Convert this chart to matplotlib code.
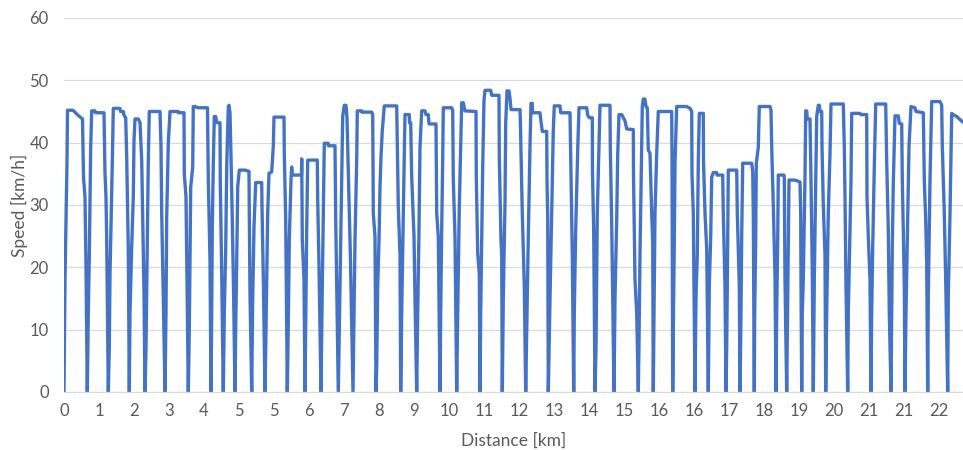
import matplotlib
matplotlib.use("Agg")
import matplotlib.pyplot as plt

plt.rcParams["font.family"] = ["Lato", "DejaVu Sans"]

# speed trace, x = sample index along the route (one line per stop-to-stop trip)
sample_idx = [
    0, 1, 2.5, 3, 3.5, 9, 14, 18.5, 19.5, 21, 22, 23.3,
    24.3, 25.3, 26.7, 27.7, 31, 31.5, 40, 41, 42, 42.7, 44.3,
    45.3, 46, 47.7, 48.3, 49.3, 56, 56.5, 59.3, 60, 61.7, 62.7, 64.3, 65.3,
    66, 67.7, 69.3, 70, 71, 74.3, 76, 77.7, 78.7, 80, 81,
    82, 83.3, 84.3, 85.3, 96, 97, 97.7, 99.3, 101,
    102, 102.7, 104.3, 106, 114.3, 114.5, 120, 120.3, 122, 122.7, 124.3,
    125.3, 126, 126.7, 128.7, 129.3, 131, 134, 143.5, 144.3, 146, 147,
    147.7, 148.3, 149.3, 150.3, 151.7, 152.7, 156, 156.3, 157.7, 159.3,
    160.3, 161.7, 162.7, 164.3, 165, 166, 167, 168.3, 169.7, 171,
    171.7, 172.7, 173.7, 175.3, 181, 185, 185.3, 186, 187.7,
    188.7, 190, 191.7, 197.7, 198, 199.3, 201,
    202, 203.7, 205, 207.7, 209.3, 210, 220, 220.3, 221.7, 223.3,
    224.3, 225.3, 227, 227.7, 228.3, 237.5, 237.7, 238.3, 240, 241,
    242, 242.7, 243.7, 253.3, 253.7, 255, 257,
    258.3, 259.3, 260.3, 264.3, 264.5, 271, 271.7, 272.7, 274.3,
    276, 277.7, 278.7, 280.3, 282, 283, 284.5, 286.5, 289,
    290, 291, 292.7, 293.3, 297.7, 298, 307.7, 308.7, 309.3, 311, 312,
    312.7, 313.7, 315, 316, 317, 318.3, 320.3, 332.7, 333.3, 334.3, 336, 336.7,
    337.7, 339.3, 340.3, 341, 345.3, 345.5, 346.7, 347.7, 350, 351, 352.7,
    353.7, 355, 356, 357.7, 361, 362, 364.3, 365, 372, 372.7, 374.3, 376,
    376.7, 377.7, 378.7, 379.3, 387.7, 388.7, 389.3, 391, 392.7,
    393.7, 395.3, 396.7, 397.7, 399.3, 401, 412, 412.3, 413.7, 415.3, 416,
    416.7, 418.7, 420, 421, 426.7, 427.7, 435, 435.3, 437, 437.7, 438.3,
    439.3, 441, 441.7, 443, 445, 446, 447, 456, 456.3, 457, 458.3, 460.3, 461.7,
    462.7, 464.3, 466, 467, 468.3, 468.5, 476, 477, 478.3, 482.7, 483, 483.7, 484.3,
    486, 487.7, 489.3, 490.3, 496, 496.7, 506, 507, 508.3, 509.7,
    510.3, 511.7, 513.7, 515, 522.7, 523.7, 525.3, 528.3, 528.5, 529.7, 531,
    532, 533.3, 535, 536, 546, 546.3, 547.7, 548.7, 550,
    551, 552.7, 553.7, 555, 557.7, 559.3, 561, 562.7, 569.3, 569.5, 571, 572.7, 574.3,
    575, 576, 577, 578.3, 579.3, 581, 582, 583.3, 584.3, 586, 587.7, 588.7, 589.3,
    590, 591, 592.7, 594.3, 607.7, 608, 608.7,
    609.3, 610.3, 611, 612.7, 622.7, 626, 627.7, 628, 629.3, 631,
    632, 633.3, 634.3, 635.3, 639.3, 639.5, 641, 642.7, 644.3,
    645.3, 646.7, 647.7, 649.3, 652.7, 653, 658.7, 659.3, 661, 662,
    662.7, 663.3, 664.3, 672.7, 673.3, 675.3, 676,
    677, 677.7, 678.7, 687.7, 688.7, 689.3, 690.3,
    690.7, 691.7, 692.3, 694.3, 695.3, 706, 707, 707.7, 709.3, 711, 712,
    712.7, 713.7, 714.3, 720, 720.3, 721, 722.7,
    724, 725, 731, 736, 736.7, 737, 737.7,
    738.3, 739.3, 741, 741.7, 742.7, 743.3, 746, 747, 748.3, 749.3,
    750.3, 751.7, 752.7, 754.3, 755.3, 756, 757.7, 758, 759.3, 761, 761.7,
    762.7, 764.3, 766, 767, 779.3, 780.3, 781, 782, 783.7,
    784.3, 786, 787, 787.7, 796, 797, 802.7, 803, 804.3, 806, 807,
    807.7, 808.7, 810.3, 811.7, 821.7, 822.7, 824.3, 825.3, 827,
    827.7, 828.3, 829.3, 831, 834.3, 835.3, 837.7, 838.3, 839.3, 840.3, 841,
    842, 843.7, 845, 847, 851, 852, 859.3, 860.3, 861.7, 862.7, 863.7,
    864.3, 866, 867.7, 876, 877.7, 878.3, 880.3, 881.7, 883.7,
    884.3, 886, 887.7, 889.3, 892.7, 896, 899,
]
speed_kmh = [
    0, 18, 33, 37, 45.2, 45.2, 44.4, 43.8, 34.5, 31.3, 20, 0,
    12.7, 21.7, 39.3, 45.1, 45.1, 44.8, 44.8, 35, 31.3, 24.4, 0,
    7.3, 19, 31.9, 36.7, 45.5, 45.5, 45.0, 45.0, 44.4, 44.0, 37.7, 22.8, 0,
    12.7, 23.3, 31.3, 40.4, 43.8, 43.8, 43.2, 37.2, 27.6, 15.9, 0,
    7, 24.9, 37.2, 45.0, 45.0, 39.4, 28.7, 15.3, 0,
    12.7, 28.1, 39.9, 45.0, 45.0, 44.8, 44.8, 35, 31.3, 21.7, 0,
    10, 22.3, 32.9, 36.1, 45.8, 45.8, 45.6, 45.6, 34, 21.2, 0,
    12.7, 26.5, 36.7, 44.2, 44.2, 43.2, 43.2, 33.5, 19, 0,
    12.7, 22.8, 36.1, 45.8, 46, 44.8, 37.7, 27.6, 14.8, 0,
    10, 20.7, 32.9, 35.6, 35.6, 35.4, 28.7, 15.9, 0,
    14.8, 26.5, 33.6, 33.6, 29.7, 18.5, 0,
    10, 28.7, 35.1, 35.3, 39.4, 44.1, 44.1, 38.3, 27.6, 0,
    11, 24.4, 34, 36.1, 34.8, 34.8, 37.4, 24.4, 18, 0,
    15.3, 26, 37.2, 37.2, 30.8, 20.1, 0,
    17, 28, 39.9, 39.9, 39.5, 39.5, 28, 17, 0,
    17, 35.1, 44.2, 46, 46, 44, 34, 21, 0,
    12.7, 24.4, 37.2, 45.1, 45.1, 44.9, 44.9, 44.5, 28.7, 24.9, 0,
    4, 16.9, 24.4, 32.9, 37.7, 42, 45.9, 45.9, 39.4, 29.7, 22, 0,
    12.7, 28.7, 38.3, 44.5, 44.5, 43.2, 43.2, 34.5, 25, 15, 0,
    12.7, 26, 39.4, 45.1, 45.1, 44.5, 44.5, 43.0, 43.0, 28.7, 24.9, 0,
    12.7, 26, 37.2, 45.6, 45.6, 45.2, 34, 24.9, 0,
    12.7, 29.7, 39.4, 46.4, 46.4, 45.1, 45.0, 34.5, 22.3, 19, 0,
    12.7, 36, 46.8, 48.4, 48.4, 47.6, 47.6, 37.7, 24.4, 22, 0,
    15, 30.3, 43.1, 48.3, 48.3, 47.1, 45.3, 45.3, 43.8, 38.3, 28.7, 17, 0,
    10, 25, 39.4, 46.3, 46.3, 44.8, 44.8, 43.4, 41.8, 41.8, 34, 28, 0,
    15, 28.7, 42, 45.9, 45.9, 44.8, 44.8, 35, 22, 0,
    12.7, 26, 38.8, 45.6, 45.6, 44.4, 44.0, 44.0, 35, 26, 0,
    7, 28.7, 39.4, 46.0, 46.0, 39.4, 27, 15.5, 0,
    15, 27.6, 38, 44.5, 44.5, 44, 43.5, 42.2, 42.1, 35, 18, 12.7, 0,
    8, 22.2, 32.9, 45.8, 47, 47, 45.8, 45.6, 38.8, 38.3, 28.7, 24, 0,
    12.7, 28.7, 38.3, 45.0, 45.0, 38, 0,
    10, 24, 36.7, 45.8, 45.8, 45.5, 45.0, 35, 28.7, 0,
    15.3, 22, 37, 44.7, 44.7, 37, 28.7, 23, 0,
    17, 25, 34.5, 35.2, 35.2, 34.8, 34.8, 28.7, 17, 0,
    7, 17, 35.6, 35.6, 28.7, 17, 0,
    12.7, 25, 36.7, 36.7, 35.4, 28.7, 0,
    12.7, 24.4, 36.7, 39.3, 45.8, 45.8, 45.2, 39.3, 30, 18.5, 0,
    12.7, 24.4, 34.8, 34.8, 34.5, 18, 0,
    20, 34, 34, 33.7, 28.7, 18, 0,
    12.7, 18, 34.5, 45.1, 45.1, 43.8, 43.8, 34, 19, 0,
    18, 33, 44.2, 46, 46, 45, 45, 39.4, 30, 22, 0,
    12.7, 28.7, 38.3, 46.2, 46.2, 39.4, 31.3, 17, 0,
    12.7, 26, 34, 44.7, 44.7, 44.5, 44.5, 31.3, 25, 18, 0,
    12.7, 23.3, 36, 46.2, 46.2, 37, 26, 12.7, 0,
    12.7, 23.3, 33.5, 44.3, 44.3, 43.1, 43, 34, 26, 17, 0,
    12.7, 27.6, 39.4, 45.8, 45.6, 45.0, 44.8, 34, 27.6, 20.7, 0,
    15.3, 34, 46.6, 46.6, 46, 39.4, 28.7, 18, 0,
    15.3, 28.7, 44.7, 44.5, 44.2, 43.7, 43.3,
]
assert len(sample_idx) == len(speed_kmh)

# category axis: a label every 35 samples, distance rounded to km
tick_every = 35
tick_labels = ["0", "1", "2", "3", "4", "5", "5", "6", "7", "8", "9", "10", "11",
               "12", "13", "14", "15", "16", "16", "17", "18", "19", "20", "21",
               "21", "22"]
n_samples = 899

GREY_TXT = "#595959"
GRID = "#d9d9d9"

fig = plt.figure(figsize=(9.63, 4.5), dpi=100)
ax = fig.add_axes([64 / 963, 1 - 392 / 450, (963 - 64) / 963, (392 - 18) / 450])

ax.plot(sample_idx, speed_kmh, color="#4472C4", lw=2.4, solid_joinstyle="round")

ax.set_xlim(0, n_samples)
ax.set_ylim(0, 60)
ax.set_yticks(range(0, 61, 10))
ax.set_xticks([i * tick_every for i in range(len(tick_labels))])
ax.set_xticklabels(tick_labels)

ax.grid(axis="y", color=GRID, lw=0.9)
ax.set_axisbelow(True)
for s in ["top", "right", "left"]:
    ax.spines[s].set_visible(False)
ax.spines["bottom"].set_color(GRID)
ax.spines["bottom"].set_linewidth(0.9)
ax.tick_params(axis="both", length=0, labelsize=12, colors=GREY_TXT)
ax.tick_params(axis="y", pad=11)
ax.tick_params(axis="x", pad=8)

ax.set_xlabel("Distance [km]", fontsize=12.5, color=GREY_TXT, labelpad=10)
ax.set_ylabel("Speed [km/h]", fontsize=12.5, color=GREY_TXT, labelpad=1)

fig.savefig("out.png", dpi=100)
